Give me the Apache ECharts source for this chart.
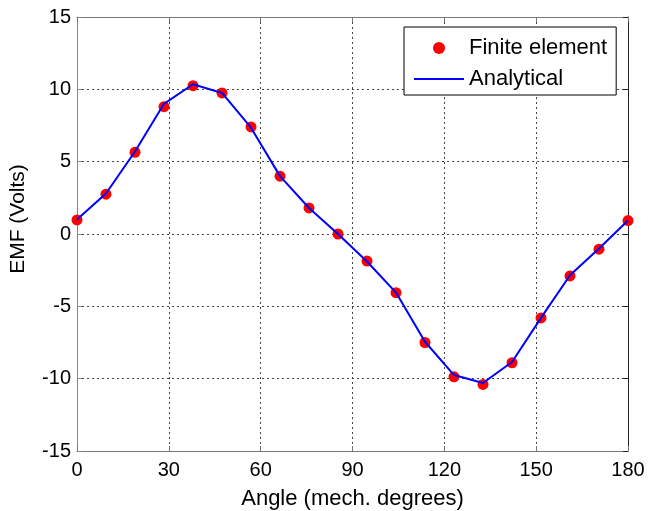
<!DOCTYPE html>
<html>
<head>
<meta charset="utf-8">
<title>EMF vs angle</title>
<script src="https://cdn.jsdelivr.net/npm/echarts@6/dist/echarts.min.js"></script>
<style>
    html, body { margin: 0; padding: 0; background: #fff; }
    #main { width: 649px; height: 511px; }
</style>
</head>
<body>
<div id="main"></div>
<script type="text/javascript">
    // angle positions (mech. degrees)
    var angles = [0, 9.47, 18.95, 28.42, 37.89, 47.37, 56.84, 66.32, 75.79, 85.26,
                  94.74, 104.21, 113.68, 123.16, 132.63, 142.11, 151.58, 161.05, 170.53, 180];
    // finite element result (Volts)
    var feEmf = [0.97, 2.75, 5.65, 8.8, 10.25, 9.75, 7.4, 4.0, 1.8, 0.0,
                 -1.87, -4.06, -7.5, -9.87, -10.4, -8.9, -5.8, -2.9, -1.05, 0.93];
    // analytical curve (Volts)
    var anEmf = [1.0, 2.8, 5.7, 9.0, 10.35, 9.75, 7.35, 4.0, 1.8, 0.0,
                 -1.9, -4.05, -7.45, -9.75, -10.3, -8.85, -5.8, -2.85, -1.0, 0.93];
    var xTicks = [0, 30, 60, 90, 120, 150, 180];
    var yTicks = [-15, -10, -5, 0, 5, 10, 15];

    var feData = [], anData = [];
    for (var i = 0; i < angles.length; i++) {
        feData.push([angles[i], feEmf[i]]);
        anData.push([angles[i], anEmf[i]]);
    }

    var font = 'Liberation Sans, Arial, Helvetica, sans-serif';

    var myChart = echarts.init(document.getElementById('main'));

    var option = {
        backgroundColor: '#fff',
        animation: false,
        grid: {
            left: 77, right: 21, top: 17, bottom: 60,
            containLabel: false,
            outerBoundsMode: 'none'
        },
        legend: {
            orient: 'vertical',
            left: 404, top: 27,
            padding: [10, 9, 5, 10],
            itemGap: 9,
            itemWidth: 50,
            itemHeight: 12,
            borderColor: '#000',
            borderWidth: 1,
            backgroundColor: '#fff',
            textStyle: { fontSize: 22, fontFamily: font, color: '#000', lineHeight: 22 },
            data: [
                { name: 'Finite element', icon: 'circle' },
                { name: 'Analytical', icon: 'path://M0,0H50V2H0Z' }
            ]
        },
        xAxis: [{
            type: 'value',
            min: xTicks[0], max: xTicks[xTicks.length - 1], interval: 30,
            name: 'Angle (mech. degrees)',
            nameLocation: 'middle',
            nameGap: 37,
            nameTextStyle: { fontSize: 22, fontFamily: font, color: '#000' },
            axisLine: { onZero: false, lineStyle: { color: '#777', width: 1 } },
            axisTick: { inside: true, length: 5, lineStyle: { color: '#777' } },
            axisLabel: { fontSize: 20, fontFamily: font, color: '#000', margin: 9 },
            splitLine: { show: true, lineStyle: { color: '#444', type: [2, 3], width: 1 } }
        }, {
            type: 'value', position: 'top',
            min: xTicks[0], max: xTicks[xTicks.length - 1], interval: 30,
            axisLine: { onZero: false, lineStyle: { color: '#777', width: 1 } },
            axisTick: { inside: true, length: 5, lineStyle: { color: '#777' } },
            axisLabel: { show: false },
            splitLine: { show: false }
        }],
        yAxis: [{
            type: 'value',
            min: yTicks[0], max: yTicks[yTicks.length - 1], interval: 5,
            name: 'EMF (Volts)',
            nameLocation: 'middle',
            nameGap: 48,
            nameTextStyle: { fontSize: 21, fontFamily: font, color: '#000', padding: [0, 0, 0, 30] },
            axisLine: { show: true, onZero: false, lineStyle: { color: '#888', width: 1 } },
            axisTick: { show: true, inside: true, length: 5, lineStyle: { color: '#888' } },
            axisLabel: { fontSize: 20, fontFamily: font, color: '#000', margin: 6 },
            splitLine: { show: true, lineStyle: { color: '#444', type: [2, 3], width: 1 } }
        }, {
            type: 'value', position: 'right',
            min: yTicks[0], max: yTicks[yTicks.length - 1], interval: 5,
            axisLine: { show: true, onZero: false, lineStyle: { color: '#222', width: 1 } },
            axisTick: { show: true, inside: true, length: 5, lineStyle: { color: '#222' } },
            axisLabel: { show: false },
            splitLine: { show: false }
        }],
        series: [{
            name: 'Finite element',
            type: 'scatter',
            data: feData,
            symbol: 'circle',
            symbolSize: 11,
            itemStyle: { color: '#ff0000', opacity: 1 },
            z: 2
        }, {
            name: 'Analytical',
            type: 'line',
            data: anData,
            symbol: 'none',
            showSymbol: false,
            lineStyle: { color: '#0000ff', width: 2 },
            itemStyle: { color: '#0000ff' },
            z: 3
        }]
    };

    myChart.setOption(option);
</script>
</body>
</html>
